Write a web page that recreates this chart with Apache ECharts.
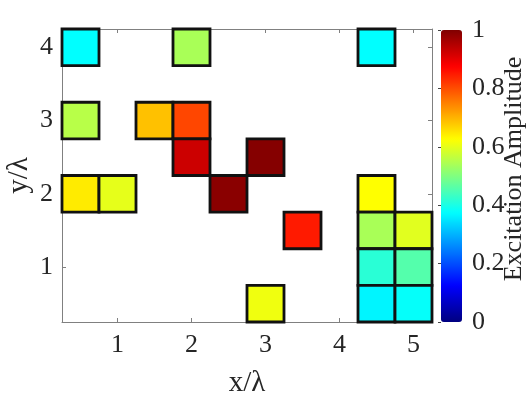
<!DOCTYPE html>
<html>
<head>
<meta charset="utf-8">
<script src="https://cdn.jsdelivr.net/npm/echarts@6/dist/echarts.min.js"></script>
<style>
html,body{margin:0;padding:0;background:#fff;}
#chart{width:532px;height:399px;}
</style>
</head>
<body>
<div id="chart"></div>
<script>
// Element positions (in wavelengths) and excitation amplitudes
var xPos = [0.5, 2.0, 4.5, 0.5, 1.5, 2.0, 2.0, 3.0, 0.5, 1.0, 2.5, 4.5, 3.5, 4.5, 5.0, 4.5, 5.0, 3.0, 4.5, 5.0];
var yPos = [4.0, 4.0, 4.0, 3.0, 3.0, 3.0, 2.5, 2.5, 2.0, 2.0, 2.0, 2.0, 1.5, 1.5, 1.5, 1.0, 1.0, 0.5, 0.5, 0.5];
var amps = [0.375, 0.54, 0.375, 0.555, 0.686, 0.807, 0.925, 0.995, 0.645, 0.60, 0.99, 0.625, 0.85, 0.54, 0.595, 0.415, 0.457, 0.61, 0.365, 0.38];
var xTicks = [1, 2, 3, 4, 5];
var yTicks = [1, 2, 3, 4];
var cbTicks = [0, 0.2, 0.4, 0.6, 0.8, 1];
var jet = ['#000080', '#0000ff', '#0080ff', '#00ffff', '#80ff80', '#ffff00', '#ff8000', '#ff0000', '#800000'];

var data = xPos.map(function (x, i) { return [x, yPos[i], amps[i]]; });

var FONT = 'Liberation Serif';
var TXT = '#262626';
var AX = '#808080';

var chart = echarts.init(document.getElementById('chart'), null, {renderer: 'canvas'});
chart.setOption({
  animation: false,
  backgroundColor: '#fff',
  textStyle: {fontFamily: FONT},
  grid: [
    {left: 62, top: 29, width: 370, height: 293, show: false, containLabel: false, outerBoundsMode: 'none'},
    {left: 441, top: 30, width: 21, height: 292, show: false, containLabel: false, outerBoundsMode: 'none'}
  ],
  xAxis: [
    {gridIndex: 0, type: 'value', min: 0.25, max: 5.25, position: 'bottom',
     name: 'x/\u03bb', nameLocation: 'middle', nameGap: 47, nameMoveOverlap: false,
     nameTextStyle: {fontFamily: FONT, fontSize: 29, color: TXT},
     axisLine: {show: true, lineStyle: {color: AX, width: 1}},
     axisTick: {show: true, inside: true, length: 4, customValues: xTicks, lineStyle: {color: AX}},
     axisLabel: {customValues: xTicks, fontFamily: FONT, fontSize: 26, color: TXT, margin: 10},
     splitLine: {show: false}},
    {gridIndex: 0, type: 'value', min: 0.25, max: 5.25, position: 'top',
     axisLine: {show: true, lineStyle: {color: AX, width: 1}},
     axisTick: {show: true, inside: true, length: 4, customValues: xTicks, lineStyle: {color: AX}},
     axisLabel: {show: false}, splitLine: {show: false}},
    {gridIndex: 1, type: 'value', min: 0, max: 1, show: false}
  ],
  yAxis: [
    {gridIndex: 0, type: 'value', min: 0.25, max: 4.25, position: 'left',
     name: 'y/\u03bb', nameLocation: 'middle', nameGap: 28, nameRotate: 90, nameMoveOverlap: false,
     nameTextStyle: {fontFamily: FONT, fontSize: 29, color: TXT},
     axisLine: {show: true, lineStyle: {color: AX, width: 1}},
     axisTick: {show: true, inside: true, length: 4, customValues: yTicks, lineStyle: {color: AX}},
     axisLabel: {customValues: yTicks, fontFamily: FONT, fontSize: 26, color: TXT, margin: 9},
     splitLine: {show: false}},
    {gridIndex: 0, type: 'value', min: 0.25, max: 4.25, position: 'right',
     axisLine: {show: true, lineStyle: {color: AX, width: 1}},
     axisTick: {show: true, inside: true, length: 4, customValues: yTicks, lineStyle: {color: AX}},
     axisLabel: {show: false}, splitLine: {show: false}},
    {gridIndex: 1, type: 'value', min: 0, max: 1, position: 'right',
     name: 'Excitation Amplitude', nameLocation: 'middle', nameGap: 39, nameRotate: 90, nameMoveOverlap: false,
     nameTextStyle: {fontFamily: FONT, fontSize: 26, color: TXT, padding: [0, 0, 0, 14]},
     axisLine: {show: false},
     axisTick: {show: true, inside: true, length: 3, customValues: cbTicks, lineStyle: {color: '#444'}},
     axisLabel: {customValues: cbTicks, fontFamily: FONT, fontSize: 26, color: TXT, margin: 10},
     splitLine: {show: false}}
  ],
  visualMap: {
    type: 'continuous', min: 0, max: 1, dimension: 2, seriesIndex: 0,
    calculable: false, realtime: false, hoverLink: false,
    orient: 'vertical', left: 441, top: 30, itemWidth: 21, itemHeight: 292,
    padding: 0, borderWidth: 0,
    inRange: {color: jet}
  },
  series: [{
    type: 'custom',
    xAxisIndex: 0, yAxisIndex: 0,
    data: data,
    encode: {x: 0, y: 1},
    clip: false,
    z: 10,
    renderItem: function (params, api) {
      var x = api.value(0), y = api.value(1);
      var p1 = api.coord([x - 0.25, y + 0.25]);
      var p2 = api.coord([x + 0.25, y - 0.25]);
      return {
        type: 'rect',
        shape: {x: p1[0], y: p1[1], width: p2[0] - p1[0], height: p2[1] - p1[1]},
        style: {fill: api.visual('color'), stroke: '#111', lineWidth: 2.8}
      };
    }
  }]
});
</script>
</body>
</html>
